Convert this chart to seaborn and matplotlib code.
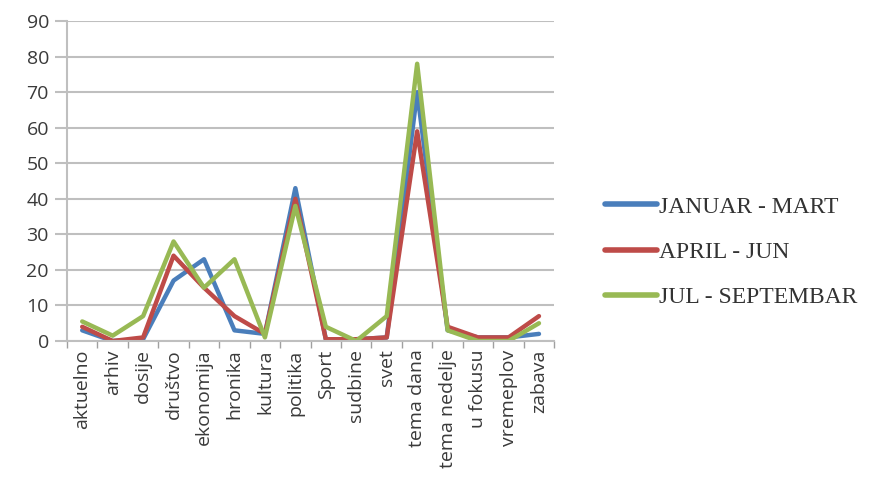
import pandas as pd
import numpy as np
import seaborn as sns
import matplotlib.pyplot as plt
from matplotlib.ticker import FixedLocator, MultipleLocator

# Categories and series values
categories = ['aktuelno', 'arhiv', 'dosije', 'društvo', 'ekonomija', 'hronika',
              'kultura', 'politika', 'Sport', 'sudbine', 'svet', 'tema dana',
              'tema nedelje', 'u fokusu', 'vremeplov', 'zabava']
jan_mar = [3, 0, 0.5, 17, 23, 3, 2, 43, 0.5, 0.5, 1, 70, 3, 1, 1, 2]
apr_jun = [4, 0, 1, 24, 15, 7, 2, 40, 0.5, 0.5, 1, 59, 4, 1, 1, 7]
jul_sep = [5.5, 1.5, 7, 28, 15, 23, 1, 38, 4, 0, 7, 78, 3, 0, 0, 5]
series_names = ['JANUAR - MART', 'APRIL - JUN', 'JUL - SEPTEMBAR']
colors = ['#4A7EBB', '#BE4B48', '#98B954']

# Build long table
df = pd.DataFrame({
    'kategorija': categories * 3,
    'vrednost': jan_mar + apr_jun + jul_sep,
    'period': np.repeat(series_names, len(categories)),
})

sns.set_style('white')
plt.rcParams['font.family'] = ['Open Sans', 'DejaVu Sans']

fig = plt.figure(figsize=(8.7, 4.91), dpi=100)
ax = fig.add_axes([0.077, 0.3055, 0.560, 0.6515])

sns.lineplot(data=df, x='kategorija', y='vrednost', hue='period',
             palette=colors, linewidth=3.2, sort=False, ax=ax)

n = len(categories)
ax.set_xlim(-0.5, n - 0.5)
ax.set_ylim(0, 90)
ax.yaxis.set_major_locator(MultipleLocator(10))
ax.grid(axis='y', color='#BFBFBF', linewidth=1.5)
ax.set_axisbelow(True)

# tick marks between categories, Excel style
ax.xaxis.set_minor_locator(FixedLocator(np.arange(-0.5, n, 1)))
ax.tick_params(axis='x', which='major', length=0, labelsize=14,
               labelrotation=90, labelcolor='#3a3a3a', pad=6)
ax.tick_params(axis='x', which='minor', length=5, width=1, color='#A0A0A0',
               direction='out', bottom=True)
ax.tick_params(axis='y', length=9, width=1.5, color='#BFBFBF',
               labelsize=14, labelcolor='#3a3a3a', left=True, pad=4)

for side in ['top', 'right']:
    ax.spines[side].set_visible(False)
for side in ['left', 'bottom']:
    ax.spines[side].set_color('#BFBFBF')
    ax.spines[side].set_linewidth(1.5)

ax.set_xlabel('')
ax.set_ylabel('')

leg = ax.legend(loc='center left', bbox_to_anchor=(1.06, 0.278), frameon=False,
                handlelength=2.2, handletextpad=0.1, labelspacing=1.0,
                prop={'family': 'Liberation Serif', 'size': 17})
for line in leg.get_lines():
    line.set_linewidth(4)
for t in leg.get_texts():
    t.set_color('#333333')

plt.savefig('out.png', dpi=100)
